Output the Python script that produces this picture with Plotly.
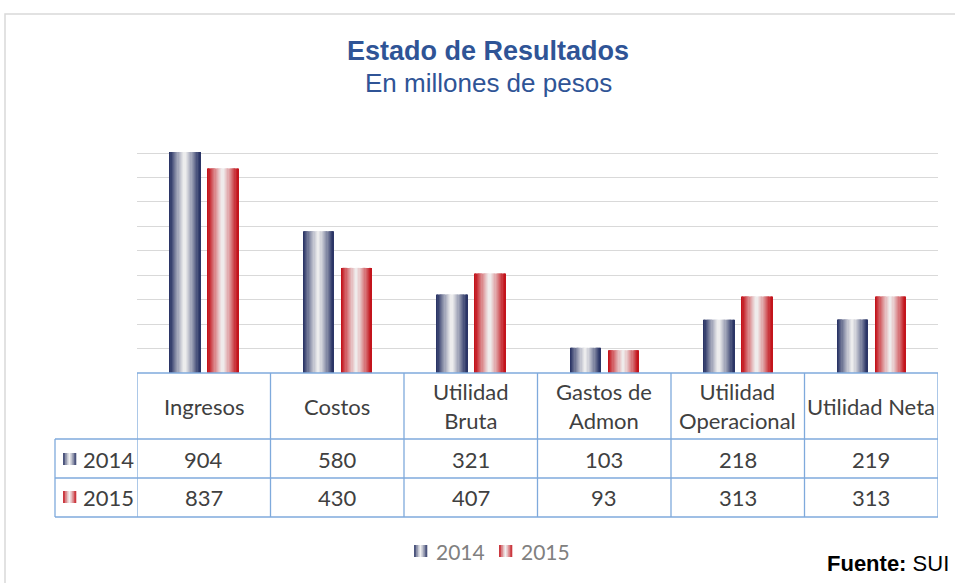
import plotly.graph_objects as go

categories = ["Ingresos", "Costos", "Utilidad Bruta", "Gastos de Admon", "Utilidad Operacional", "Utilidad Neta"]
header_labels = ["Ingresos", "Costos", "Utilidad<br>Bruta", "Gastos de<br>Admon", "Utilidad<br>Operacional", "Utilidad Neta"]
series_names = ["2014", "2015"]
values_2014 = [904, 580, 321, 103, 218, 219]
values_2015 = [837, 430, 407, 93, 313, 313]
series_values = [values_2014, values_2015]

W_FIG, H_FIG = 955, 583
L, R, T, B = 137, 938, 151, 373
PW, PH = R - L, B - T
Y_TOP = 900 * PH / 220.0


def px(x):
    return (x - L) / PW


def py(y):
    return (B - y) / PH


def hex2rgb(h):
    h = h.lstrip("#")
    return tuple(int(h[i:i + 2], 16) for i in (0, 2, 4))


def mix(c1, c2, m):
    a, b = hex2rgb(c1), hex2rgb(c2)
    return "rgb(%d,%d,%d)" % tuple(round(a[i] * (1 - m) + b[i] * m) for i in range(3))


edge_colors = ["#2B3566", "#C3141C"]
mid_color = "#F0F0F0"
bar_start = [-0.255, 0.03]
bar_width = 0.23
N = 26

fig = go.Figure()
for j, vals in enumerate(series_values):
    sw = bar_width / N
    for k in range(N):
        s = (k + 0.5) / N
        t = abs(s - 0.5) * 2
        m = min(1.0, (t ** 1.2) * 1.08)
        col = mix(mid_color, edge_colors[j], m)
        w = sw + (0.003 if k < N - 1 else 0)
        fig.add_trace(go.Bar(
            x=categories, y=vals, offset=bar_start[j] + k * sw, width=w,
            marker=dict(color=col, line=dict(width=0)),
            showlegend=False, hoverinfo="skip", name=series_names[j]))

border = "#7FAADC"
text_col = "#404040"
tfont = dict(family="Lato, Noto Sans, sans-serif", size=22, color=text_col)

shapes = []
annotations = []


def hline(y, x0, x1):
    shapes.append(dict(type="line", xref="paper", yref="paper", x0=px(x0), x1=px(x1),
                       y0=py(y), y1=py(y), line=dict(color=border, width=1.3)))


def vline_px(x, y0, y1):
    shapes.append(dict(type="line", xref="paper", yref="paper", x0=px(x), x1=px(x),
                       y0=py(y0), y1=py(y1), line=dict(color=border, width=1.3)))


# outer frame
shapes.append(dict(type="rect", xref="paper", yref="paper", x0=px(5), x1=px(1000),
                   y0=py(700), y1=py(14), line=dict(color="#D9D9D9", width=1.5)))

# table grid
hline(373, 137, 938)
for yy in (439, 478, 517):
    hline(yy, 55, 938)
vline_px(55, 439, 517)
for i in range(len(categories) + 1):
    shapes.append(dict(type="line", xref="x", yref="paper", x0=i - 0.5, x1=i - 0.5,
                       y0=py(517), y1=py(373), line=dict(color=border, width=1.3)))

# table text
row_y = [459, 497]
for i, lab in enumerate(header_labels):
    annotations.append(dict(x=i, y=py(406), xref="x", yref="paper", text=lab, showarrow=False,
                            font=tfont, xanchor="center", yanchor="middle"))
    for j, vals in enumerate(series_values):
        annotations.append(dict(x=i, y=py(row_y[j]), xref="x", yref="paper", text=str(vals[i]),
                                showarrow=False, font=tfont, xanchor="center", yanchor="middle"))


def legend_key(x0, yc, j):
    n = 7
    w = 13
    for k in range(n):
        s = (k + 0.5) / n
        t = abs(s - 0.5) * 2
        col = mix(mid_color, edge_colors[j], t ** 1.2)
        shapes.append(dict(type="rect", xref="paper", yref="paper",
                           x0=px(x0 + k * w / n), x1=px(x0 + (k + 1) * w / n + 0.3),
                           y0=py(yc + 6), y1=py(yc - 6), line=dict(width=0), fillcolor=col))


for j, name in enumerate(series_names):
    legend_key(63, row_y[j], j)
    annotations.append(dict(x=px(81), y=py(row_y[j]), xref="paper", yref="paper", text=name,
                            showarrow=False, font=tfont, xanchor="left", yanchor="middle"))

# bottom legend
leg_x = [414, 499]
for j, name in enumerate(series_names):
    legend_key(leg_x[j], 551, j)
    annotations.append(dict(x=px(leg_x[j] + 20), y=py(551), xref="paper", yref="paper", text=name,
                            showarrow=False, font=dict(family="Lato, sans-serif", size=21, color="#808080"),
                            xanchor="left", yanchor="middle"))

# titles
title_col = "#2F5496"
annotations.append(dict(x=px(488), y=py(51), xref="paper", yref="paper", text="<b>Estado de Resultados</b>",
                        showarrow=False, font=dict(family="Liberation Sans, Arial", size=27, color=title_col),
                        xanchor="center", yanchor="middle"))
annotations.append(dict(x=px(488), y=py(83), xref="paper", yref="paper", text="En millones de pesos",
                        showarrow=False, font=dict(family="Liberation Sans, Arial", size=26, color=title_col),
                        xanchor="center", yanchor="middle"))
annotations.append(dict(x=px(951), y=py(563), xref="paper", yref="paper", text="<b>Fuente:</b> SUI",
                        showarrow=False, font=dict(family="Liberation Sans, Arial", size=22, color="#000000"),
                        xanchor="right", yanchor="middle"))

fig.update_layout(
    width=W_FIG, height=H_FIG,
    margin=dict(l=L, r=W_FIG - R, t=T, b=H_FIG - B, pad=0),
    barmode="overlay",
    plot_bgcolor="white", paper_bgcolor="white",
    xaxis=dict(type="category", showticklabels=False, showgrid=False, zeroline=False,
               showline=False, ticks="", range=[-0.5, 5.5]),
    yaxis=dict(range=[0, Y_TOP], dtick=100, showticklabels=False, showgrid=True,
               gridcolor="#D9D9D9", gridwidth=1.3, zeroline=False, showline=False, ticks=""),
    shapes=shapes, annotations=annotations, showlegend=False,
)

fig.write_html("out.html", config={"displayModeBar": False},
               post_script="document.body.style.margin='0px';document.body.style.overflow='hidden';")
